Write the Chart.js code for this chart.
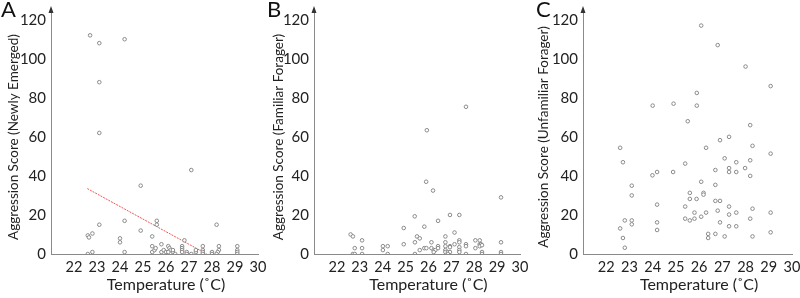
<!DOCTYPE html>
<html>
<head>
<meta charset="utf-8">
<script src="https://cdn.jsdelivr.net/npm/chart.js@4"></script>
<style>
  body { margin: 0; background: #fff; }
  #wrap { position: relative; width: 800px; height: 298px; overflow: hidden; }
  .panel { position: absolute; top: 0; height: 298px; }
  .letter { position: absolute; top: -5px; font: 22px Lato, sans-serif; color: #111; }
</style>
</head>
<body>
<div id="wrap">
  <div class="panel" style="left:0;width:275px"><canvas id="chartA"></canvas></div>
  <div class="panel" style="left:265px;width:275px"><canvas id="chartB"></canvas></div>
  <div class="panel" style="left:530px;width:270px"><canvas id="chartC"></canvas></div>
  <div class="letter" style="left:1px">A</div>
  <div class="letter" style="left:267px">B</div>
  <div class="letter" style="left:536px">C</div>
</div>
<script>
// x ticks shown on every panel
const tempTicks = [22, 23, 24, 25, 26, 27, 28, 29, 30];
const scoreTicks = [0, 20, 40, 60, 80, 100, 120];

// A: newly emerged
const tempA  = [22.7, 23.1, 24.2, 23.1, 23.1, 27.1, 24.9,
  22.6, 22.65, 22.8, 23.1, 22.6, 22.8,
  24.2, 24.0, 24.0, 24.2, 24.9,
  25.4, 25.4, 25.4, 25.5, 25.55, 25.6, 25.6, 25.8, 25.8, 25.9, 26.0,
  26.1, 26.15, 26.2, 26.1, 26.3, 26.4, 26.3,
  26.7, 26.7, 26.7, 26.7, 26.8, 26.9, 26.9, 27.1, 27.3, 27.3,
  27.6, 27.6, 27.6, 27.6, 28.0, 28.0,
  28.2, 28.3, 28.3, 28.25, 28.2, 29.1, 29.1, 29.1, 29.1];
const scoreA = [112, 108, 110, 88, 62, 43, 35,
  9.5, 8.5, 10.5, 15, 0, 1,
  17, 8, 6, 1, 12,
  9, 4, 1, 2, 3, 17, 15, 5, 1, 2, 1,
  4, 3, 2, 1, 1, 0, 2,
  4, 3, 2, 1, 7, 1, 0, 0, 1, 2,
  4, 2, 1, 0, 1, 0,
  15, 4, 2, 1, 0, 4, 2, 1, 0];
// fitted line in A (end points)
const fitTemp  = [22.58, 27.77];
const fitScore = [33.5, 0];

// B: familiar forager
const tempB  = [25.93, 27.64, 25.9, 26.2, 29.17, 25.4, 26.94, 27.35, 26.42, 25.82, 24.92, 27.14, 26.74,
  22.6, 22.7, 25.5, 25.62, 23.1, 28.05, 28.24, 25.41, 26.13, 26.74, 29.17, 27.35, 27.35,
  24.92, 27.14, 27.64, 28.24, 28.3,
  24.01, 24.22, 26.74, 26.94, 26.42, 27.64, 28.24, 28.34,
  26.94, 27.35,
  22.78, 23.1, 25.82, 25.91, 26.13, 26.42, 28.05,
  24.01, 25.62, 26.23, 26.3, 26.74, 27.35,
  26.23, 26.74, 26.85, 26.94, 27.35, 28.34, 29.17,
  22.7, 22.78, 23.1, 24.22, 25.41, 26.85, 27.64, 28.34, 29.17];
const scoreB = [63.4, 75.4, 37, 32.5, 29, 19.3, 20, 20, 17, 14, 13.3, 11, 9,
  10, 9, 9, 8, 7, 7, 7, 6, 6, 6, 6, 7, 6,
  5, 5, 5, 5, 5,
  4, 4, 4, 4, 4, 4, 4, 4.5,
  3.5, 3.5,
  3, 3, 3, 3, 3, 3, 3,
  2, 2, 2, 2, 2, 2,
  1, 1, 1, 1, 1, 1, 1,
  0, 0, 0, 0, 0, 0, 0, 0, 0];

// C: unfamiliar forager
const tempC  = [26.09, 26.8, 28.0, 29.08, 25.9, 24.0, 24.9, 25.9, 25.51, 28.2, 27.29, 26.9, 22.6, 26.3, 28.3,
  22.72, 27.1, 29.08, 25.4, 27.6, 28.2, 26.7, 27.29, 27.29, 27.6, 27.98, 28.2,
  23.99, 24.19, 24.88, 23.1, 23.1, 26.09, 26.7, 25.6, 25.6, 25.89, 26.19, 26.19, 26.7, 26.9, 24.19, 25.4, 27.29,
  25.8, 26.3, 26.8, 27.29, 27.6, 28.3, 29.08, 26.09, 25.4, 25.6, 25.8, 28.2,
  22.8, 23.1, 23.1, 24.19, 26.9, 22.6, 24.19, 27.29, 27.6, 26.39, 26.39, 26.7, 27.1, 28.3, 29.08, 22.72, 22.8];
const scoreC = [117, 107, 96, 86, 82.5, 76, 77, 76, 68, 66, 60, 58.3, 54.4, 54.4, 55.4,
  47, 49, 51.4, 46.3, 47, 48, 43, 44, 42, 42, 44, 40,
  40.3, 42, 42, 35, 30, 37, 35.4, 31.3, 28.2, 28.2, 31.3, 30.4, 27.2, 27.2, 25.3, 24.3, 24.3,
  21.2, 21.2, 22.2, 20.2, 21.2, 23.2, 21.2, 19.1, 18.1, 17.2, 18.1, 18.1,
  17.2, 17.2, 15.2, 16.2, 16.2, 13.1, 12.3, 14.2, 14.2, 10.3, 8.2, 10.3, 9, 9, 11.1, 8.2, 3.2];

const FONT = "Lato, 'Open Sans', sans-serif";
const pts = (xs, ys) => xs.map((x, i) => ({ x, y: ys[i] }));

// axis arrow + axis titles
const decor = {
  id: "decor",
  afterDraw(chart, args, o) {
    const { ctx, chartArea: a, scales: { x } } = chart;
    ctx.save();
    ctx.fillStyle = "#333";
    ctx.beginPath();
    ctx.moveTo(a.left, a.top - 2);
    ctx.lineTo(a.left - 2.5, a.top + 5);
    ctx.lineTo(a.left + 2.5, a.top + 5);
    ctx.closePath();
    ctx.fill();
    ctx.fillStyle = "#222";
    ctx.textAlign = "center";
    ctx.textBaseline = "middle";
    ctx.font = "16px " + FONT;
    ctx.fillText(o.xTitle, x.getPixelForValue(26), 285);
    ctx.translate(14, 137);
    ctx.rotate(-Math.PI / 2);
    ctx.font = "13.5px " + FONT;
    ctx.fillText(o.yTitle, 0, 0);
    ctx.restore();
  }
};

function makeChart(id, data, yTitle, yWidth, padRight, extra) {
  const datasets = [{
    type: "scatter",
    data: pts(data[0], data[1]),
    pointRadius: 1.8,
    pointHoverRadius: 1.8,
    borderWidth: 1,
    borderColor: "#8a8a8a",
    backgroundColor: "#fff"
  }];
  if (extra) datasets.push(extra);
  return new Chart(document.getElementById(id), {
    type: "scatter",
    data: { datasets },
    plugins: [decor],
    options: {
      responsive: true,
      maintainAspectRatio: false,
      animation: false,
      events: [],
      layout: { padding: { top: 8, right: padRight, left: 0, bottom: 0 } },
      plugins: {
        legend: { display: false },
        tooltip: { enabled: false },
        decor: { xTitle: "Temperature (˚C)", yTitle }
      },
      scales: {
        x: {
          type: "linear", min: 21, max: 30,
          grid: { display: false, drawTicks: false },
          border: { display: true, color: "#8a8a8a", width: 1 },
          afterBuildTicks: s => { s.ticks = tempTicks.map(v => ({ value: v })); },
          afterFit: s => { s.height = 44; s.paddingLeft = 0; s.paddingRight = 0; },
          ticks: { autoSkip: false, maxRotation: 0, padding: 5, color: "#222", font: { family: FONT, size: 14.5 } }
        },
        y: {
          type: "linear", min: 0, max: 126,
          grid: { display: false, drawTicks: false },
          border: { display: true, color: "#8a8a8a", width: 1 },
          afterBuildTicks: s => { s.ticks = scoreTicks.map(v => ({ value: v })); },
          afterFit: s => { s.width = yWidth; s.paddingTop = 0; s.paddingBottom = 0; },
          ticks: { padding: 5, color: "#222", font: { family: FONT, size: 15 } }
        }
      }
    }
  });
}

makeChart("chartA", [tempA, scoreA], "Aggression Score (Newly Emerged)", 51, 17, {
  type: "line",
  data: pts(fitTemp, fitScore),
  borderColor: "#f25555",
  borderWidth: 1,
  borderDash: [2, 1],
  pointRadius: 0,
  fill: false
});
makeChart("chartB", [tempB, scoreB], "Aggression Score (Familiar Forager)", 49, 20);
makeChart("chartC", [tempC, scoreC], "Aggression Score (Unfamiliar Forager)", 53, 8);
</script>
</body>
</html>
